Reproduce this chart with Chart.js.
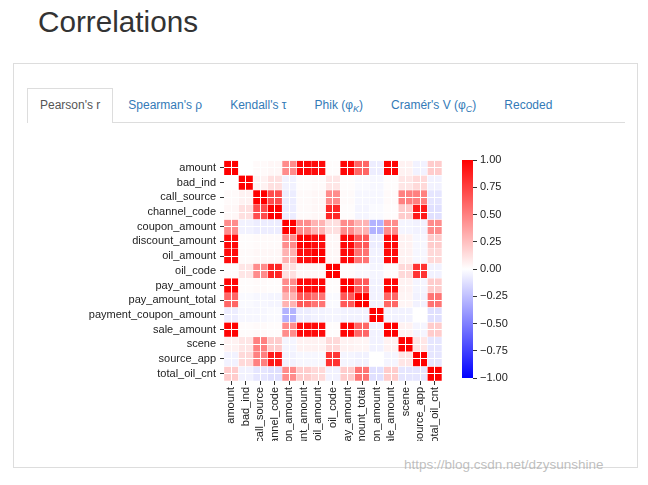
<!DOCTYPE html>
<html>
<head>
<meta charset="utf-8">
<script src="https://cdn.jsdelivr.net/npm/chart.js@4.4.0/dist/chart.umd.min.js"></script>
<style>
  body { margin: 0; background: #fff; font-family: "Liberation Sans", Arial, sans-serif; }
  .title { position: absolute; left: 38px; top: 6px; margin: 0; font-size: 29.7px; font-weight: normal; color: #333; line-height: 32px; }
  .panel { position: absolute; left: 13px; top: 63px; width: 625px; height: 405px; border: 1px solid #ddd; box-sizing: border-box; }
  .tabs { position: absolute; left: 27px; top: 88px; width: 598px; height: 35px; border-bottom: 1px solid #ddd; box-sizing: border-box; margin: 0; padding: 0; list-style: none; display: flex; }
  .tabs li { height: 35px; box-sizing: border-box; padding: 0 12px; margin-right: 2px; border: 1px solid transparent; border-bottom: none; line-height: 33px; font-size: 12px; color: #337ab7; white-space: nowrap; }
  .tabs li.active { border-color: #ddd; background: #fff; color: #555; height: 35px; }
  .tabs sub { font-size: 9px; line-height: 0; }
  #heat { position: absolute; left: 80px; top: 150px; }
  #bar { position: absolute; left: 450px; top: 150px; }
  .mark { position: absolute; left: 404px; top: 457px; font-size: 13.5px; color: rgba(170,170,170,0.75); }
</style>
</head>
<body>
<h2 class="title">Correlations</h2>
<div class="panel"></div>
<ul class="tabs">
  <li class="active">Pearson's r</li>
  <li>Spearman's ρ</li>
  <li>Kendall's τ</li>
  <li>Phik (φ<sub><i>K</i></sub>)</li>
  <li>Cramér's V (φ<sub><i>C</i></sub>)</li>
  <li>Recoded</li>
</ul>
<canvas id="heat" width="370" height="291"></canvas>
<canvas id="bar" width="80" height="240"></canvas>
<div class="mark">https://blog.csdn.net/dzysunshine</div>
<script>
const names = ["amount", "bad_ind", "call_source", "channel_code", "coupon_amount",
  "discount_amount", "oil_amount", "oil_code", "pay_amount", "pay_amount_total",
  "payment_coupon_amount", "sale_amount", "scene", "source_app", "total_oil_cnt"];

// Pearson's r, row by row
const corr = [
  [1, 0.0, 0.02, 0.03, 0.45, 0.97, 0.96, 0.01, 0.98, 0.6, -0.07, 0.99, 0.05, -0.05, 0.2],
  [0.0, 1, 0.05, 0.12, -0.05, 0.01, 0.02, 0.1, 0.01, -0.02, -0.03, 0.01, 0.1, 0.15, -0.05],
  [0.02, 0.05, 1, 0.7, -0.07, 0.02, 0.03, 0.45, 0.02, -0.03, -0.03, 0.02, 0.5, 0.5, -0.1],
  [0.03, 0.12, 0.7, 1, -0.07, 0.02, 0.03, 0.85, 0.01, -0.04, -0.02, 0.01, 0.2, 0.9, -0.12],
  [0.45, -0.05, -0.07, -0.07, 1, 0.45, 0.3, 0.12, 0.45, 0.3, -0.3, 0.45, -0.04, -0.05, 0.45],
  [0.97, 0.01, 0.02, 0.02, 0.45, 1, 0.95, 0.03, 0.97, 0.65, -0.07, 0.97, 0.05, -0.03, 0.2],
  [0.96, 0.02, 0.03, 0.03, 0.3, 0.95, 1, 0.03, 0.96, 0.55, -0.05, 0.96, 0.05, -0.03, 0.15],
  [0.01, 0.1, 0.45, 0.85, 0.12, 0.03, 0.03, 1, 0.01, -0.02, -0.04, 0.01, 0.15, 0.8, -0.05],
  [0.98, 0.01, 0.02, 0.01, 0.45, 0.97, 0.96, 0.01, 1, 0.65, -0.05, 0.98, 0.05, -0.04, 0.2],
  [0.6, -0.02, -0.03, -0.04, 0.3, 0.65, 0.55, -0.02, 0.65, 1, -0.05, 0.6, 0.04, -0.05, 0.55],
  [-0.07, -0.03, -0.03, -0.02, -0.3, -0.07, -0.05, -0.04, -0.05, -0.05, 1, -0.05, -0.05, 0.0, -0.12],
  [0.99, 0.01, 0.02, 0.01, 0.45, 0.97, 0.96, 0.01, 0.98, 0.6, -0.05, 1, 0.05, -0.04, 0.2],
  [0.05, 0.1, 0.5, 0.2, -0.04, 0.05, 0.05, 0.15, 0.05, 0.04, -0.05, 0.05, 1, 0.1, -0.1],
  [-0.05, 0.15, 0.5, 0.9, -0.05, -0.03, -0.03, 0.8, -0.04, -0.05, 0.0, -0.04, 0.1, 1, -0.1],
  [0.2, -0.05, -0.1, -0.12, 0.45, 0.2, 0.15, -0.05, 0.2, 0.55, -0.12, 0.2, -0.1, -0.1, 1]
];

const colorbarTicks = [-1, -0.75, -0.5, -0.25, 0, 0.25, 0.5, 0.75, 1];

const font = { family: "'Liberation Sans', Arial, sans-serif", size: 11 };

// bwr colormap
function bwr(v) {
  if (v >= 0) {
    const c = Math.round(255 * (1 - v));
    return `rgb(255,${c},${c})`;
  }
  const c = Math.round(255 * (1 + v));
  return `rgb(${c},${c},255)`;
}

const fmt = (v) => v.toFixed(2).replace("-", "\u2212");

new Chart(document.getElementById("heat"), {
  type: "bar",
  data: {
    labels: names,
    datasets: corr.map((row, i) => ({
      data: names.map(() => [i, i + 1]),
      backgroundColor: row.map(bwr),
      borderColor: "#fff",
      borderWidth: 0.5,
      borderSkipped: false,
      grouped: false,
      barPercentage: 1,
      categoryPercentage: 1,
    })),
  },
  options: {
    responsive: false,
    animation: false,
    layout: { padding: { top: 10, right: 4 } },
    plugins: { legend: { display: false }, tooltip: { enabled: false } },
    scales: {
      x: {
        grid: { offset: false, color: "#fff", z: 1, lineWidth: 1, tickColor: "#333", tickLength: 4 },
        border: { display: false },
        ticks: { autoSkip: false, minRotation: 90, maxRotation: 90, font: font, color: "#222", padding: 2 },
        afterFit: (s) => { s.height = 60; },
      },
      y: {
        type: "linear",
        min: 0,
        max: 15,
        reverse: true,
        afterBuildTicks: (s) => { s.ticks = names.map((n, i) => ({ value: i + 0.5 })); },
        grid: { color: "#fff", z: 1, lineWidth: 1, tickColor: "#333", tickLength: 4 },
        border: { display: false },
        ticks: { autoSkip: false, font: font, color: "#222", padding: 4, callback: (v) => names[Math.floor(v)] },
        afterFit: (s) => { s.width = 144; },
      },
    },
  },
});

new Chart(document.getElementById("bar"), {
  type: "bar",
  data: {
    labels: [""],
    datasets: [{
      data: [[-1, 1]],
      backgroundColor: (ctx) => {
        const area = ctx.chart.chartArea;
        if (!area) return "#fff";
        const g = ctx.chart.ctx.createLinearGradient(0, area.bottom, 0, area.top);
        g.addColorStop(0, bwr(-1));
        g.addColorStop(0.5, bwr(0));
        g.addColorStop(1, bwr(1));
        return g;
      },
      barPercentage: 1,
      categoryPercentage: 1,
    }],
  },
  options: {
    responsive: false,
    animation: false,
    layout: { padding: { left: 12, top: 10, bottom: 12 } },
    plugins: { legend: { display: false }, tooltip: { enabled: false } },
    scales: {
      x: { display: false },
      y: {
        position: "right",
        min: -1,
        max: 1,
        afterBuildTicks: (s) => { s.ticks = colorbarTicks.map((v) => ({ value: v })); },
        grid: { drawOnChartArea: false, tickColor: "#333", tickLength: 4 },
        border: { display: false },
        ticks: { font: font, color: "#222", padding: 3, callback: (v) => fmt(v) },
        afterFit: (s) => { s.width = 57; },
      },
    },
  },
});
</script>
</body>
</html>
